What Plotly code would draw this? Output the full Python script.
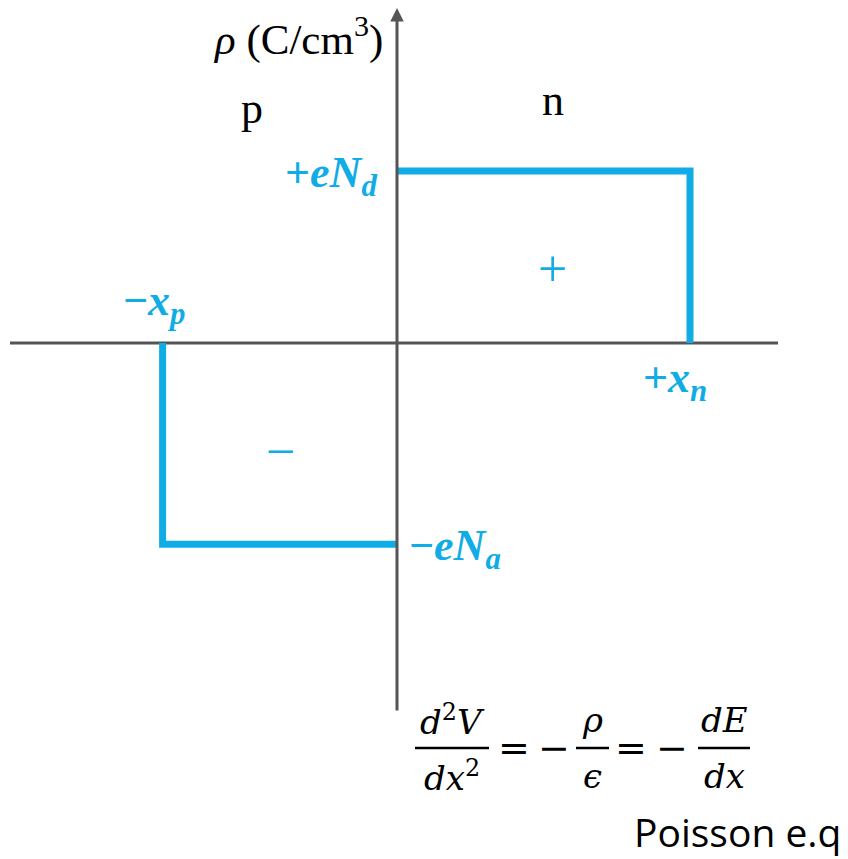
import plotly.graph_objects as go

# Space-charge density across an abrupt p-n junction (arbitrary units)
x_p = 0.8      # depletion edge on the p side
x_n = 1.0      # depletion edge on the n side
N_d = 1.0      # donor charge density (+eN_d)
N_a = 1.17     # acceptor charge density (-eN_a)

pos_x = [0, x_n, x_n]
pos_y = [N_d, N_d, 0]
neg_x = [-x_p, -x_p, 0]
neg_y = [0, -N_a, -N_a]

W, H = 848, 859
X0_PX, Y0_PX = 397, 343        # where the origin sits on the canvas
UX, UY = 293.0, 172.0          # pixels per data unit

def dx(px):
    return (px - X0_PX) / UX

def dy(py):
    return (Y0_PX - py) / UY

def px_x(px):
    return px / W

def px_y(py):
    return 1 - py / H

BLUE = "#10ACE6"
AXIS = "#555555"
SERIF = "Times New Roman, Liberation Serif, serif"
MATH = "DejaVu Serif"

fig = go.Figure()
for xs, ys in ((pos_x, pos_y), (neg_x, neg_y)):
    fig.add_trace(go.Scatter(x=xs, y=ys, mode="lines",
                             line=dict(color=BLUE, width=7),
                             hoverinfo="skip", showlegend=False))

shapes = [
    # horizontal axis
    dict(type="line", xref="x", yref="y", x0=dx(10), x1=dx(778), y0=0, y1=0,
         line=dict(color=AXIS, width=3), layer="below"),
    # fraction bars
    dict(type="line", xref="paper", yref="paper", x0=px_x(415), x1=px_x(489),
         y0=px_y(748), y1=px_y(748), line=dict(color="black", width=2.5)),
    dict(type="line", xref="paper", yref="paper", x0=px_x(576), x1=px_x(609),
         y0=px_y(748), y1=px_y(748), line=dict(color="black", width=2.5)),
    dict(type="line", xref="paper", yref="paper", x0=px_x(698), x1=px_x(750),
         y0=px_y(748), y1=px_y(748), line=dict(color="black", width=2.5)),
]

ann = []
# vertical axis with arrow head
ann.append(dict(x=0, y=dy(8), ax=0, ay=dy(712), xref="x", yref="y",
                axref="x", ayref="y", showarrow=True, arrowhead=2,
                arrowsize=0.9, arrowwidth=3, arrowcolor=AXIS, text=""))

def label(text, x, y, size, color="black", xanchor="center", yanchor="middle",
          xshift=0, yshift=0, family=SERIF, xref="x", yref="y"):
    ann.append(dict(text=text, x=x, y=y, xref=xref, yref=yref, showarrow=False,
                    xanchor=xanchor, yanchor=yanchor, xshift=xshift, yshift=yshift,
                    borderpad=0, borderwidth=0,
                    font=dict(family=family, size=size, color=color)))

label("<i>ρ</i> (C/cm<sup>3</sup>)", 0, dy(36), 43, xanchor="right", xshift=-14)
label("p", dx(252), dy(108), 44)
label("n", dx(553), dy(100), 44)

label("<b>+<i>eN</i><sub><i>d</i></sub></b>", 0, N_d, 44, BLUE,
      xanchor="right", xshift=-20, yshift=-4)
label("<b>−<i>x</i><sub><i>p</i></sub></b>", -x_p, 0, 44, BLUE,
      yanchor="bottom", xshift=-9, yshift=12)
label("<b>+<i>x</i><sub><i>n</i></sub></b>", x_n, 0, 44, BLUE,
      yanchor="top", xshift=-15, yshift=-10)
label("<b>−<i>eN</i><sub><i>a</i></sub></b>", 0, -N_a, 44, BLUE,
      xanchor="left", xshift=12, yshift=-4)
label("+", dx(552), dy(268), 52, BLUE)
label("−", dx(280), dy(451), 52, BLUE)

# Poisson equation
label("<i>d</i><sup>2</sup><i>V</i>", px_x(452), px_y(720), 34, family=MATH,
      xref="paper", yref="paper")
label("<i>dx</i><sup>2</sup>", px_x(452), px_y(776), 34, family=MATH,
      xref="paper", yref="paper")
label("=", px_x(514), px_y(748), 38, family=MATH, xref="paper", yref="paper")
label("−", px_x(554), px_y(748), 38, family=MATH, xref="paper", yref="paper")
label("<i>ρ</i>", px_x(592), px_y(720), 34, family=MATH, xref="paper", yref="paper")
label("<i>ϵ</i>", px_x(592), px_y(776), 34, family=MATH, xref="paper", yref="paper")
label("=", px_x(631), px_y(748), 38, family=MATH, xref="paper", yref="paper")
label("−", px_x(672), px_y(748), 38, family=MATH, xref="paper", yref="paper")
label("<i>dE</i>", px_x(724), px_y(720), 34, family=MATH, xref="paper", yref="paper")
label("<i>dx</i>", px_x(724), px_y(776), 34, family=MATH, xref="paper", yref="paper")
label("Poisson e.q", px_x(841), px_y(831), 39, family="Open Sans",
      xanchor="right", xref="paper", yref="paper")

fig.update_layout(
    width=W, height=H, margin=dict(l=0, r=0, t=0, b=0),
    paper_bgcolor="white", plot_bgcolor="white",
    xaxis=dict(range=[dx(0), dx(W)], visible=False, fixedrange=True),
    yaxis=dict(range=[dy(H), dy(0)], visible=False, fixedrange=True),
    shapes=shapes, annotations=ann, showlegend=False,
)
fig.write_html("out.html")
